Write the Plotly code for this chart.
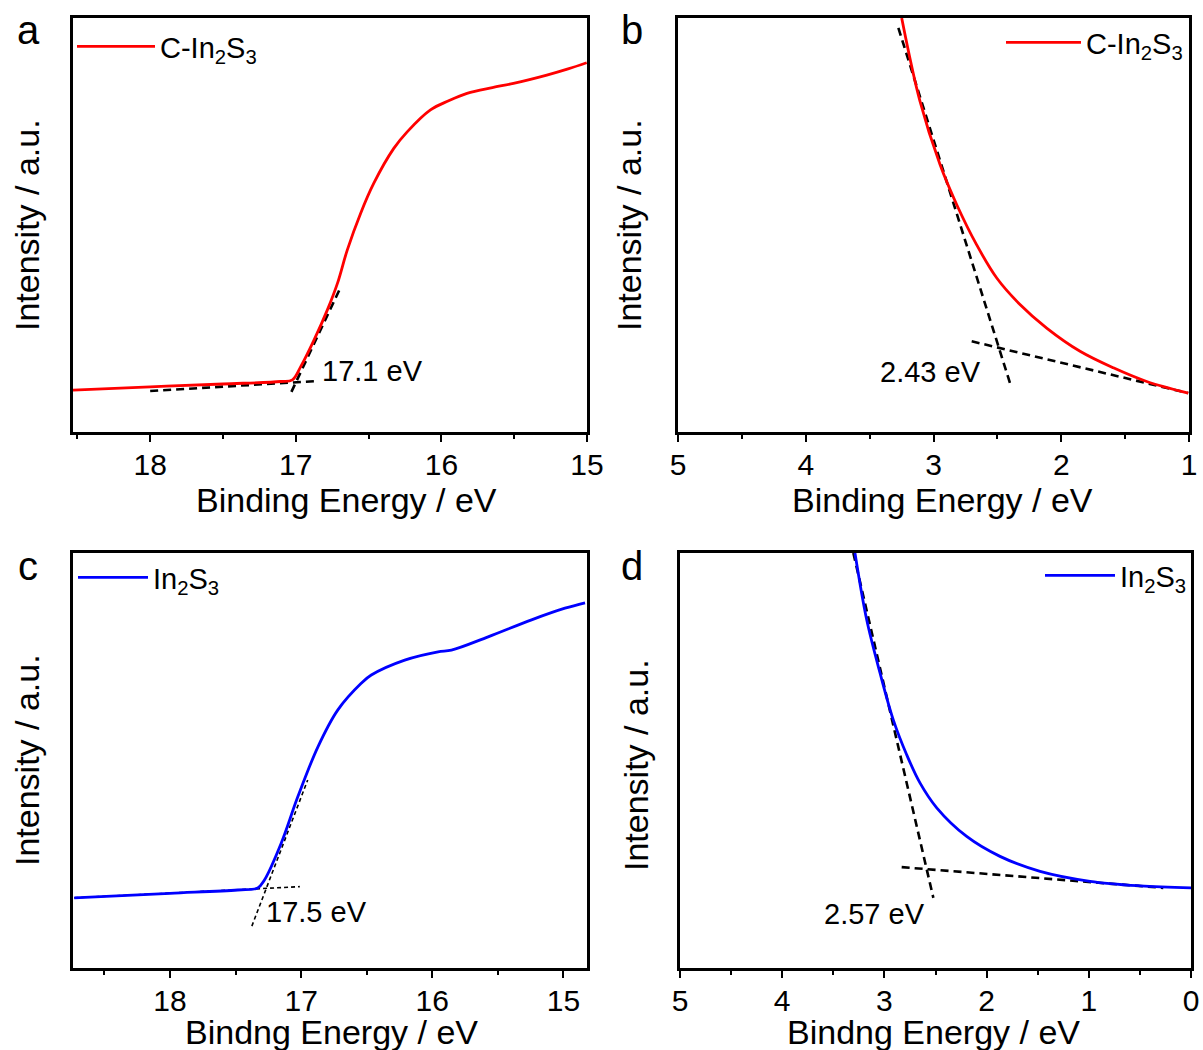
import plotly.graph_objects as go

W, H = 1203, 1050
FONT = "Liberation Sans, Arial, sans-serif"

# ---------------- data (binding energy in eV, normalised intensity) ----------------
a_energy = [18.53, 18.0, 17.5, 17.103, 17.023, 16.966, 16.875, 16.783, 16.714, 16.646, 16.555,
            16.464, 16.327, 16.235, 16.075, 15.95, 15.824, 15.65, 15.505, 15.276, 15.13, 15.002]
a_intensity = [0.101, 0.109, 0.116, 0.122, 0.126, 0.158, 0.222, 0.295, 0.359, 0.440, 0.528,
               0.601, 0.685, 0.725, 0.778, 0.800, 0.818, 0.832, 0.842, 0.862, 0.877, 0.892]
a_base_x, a_base_y = [18.0, 16.86], [0.099, 0.123]
a_edge_x, a_edge_y = [17.03, 16.69], [0.097, 0.351]

b_energy = [3.249, 3.106, 2.949, 2.818, 2.662, 2.505, 2.323, 2.114, 1.853, 1.592, 1.331, 1.006]
b_intensity = [1.0, 0.799, 0.646, 0.549, 0.452, 0.372, 0.308, 0.251, 0.195, 0.155, 0.122, 0.094]
b_edge_x, b_edge_y = [3.275, 2.401], [0.976, 0.118]
b_base_x, b_base_y = [2.701, 1.006], [0.219, 0.094]

c_energy = [18.73, 18.0, 17.484, 17.331, 17.28, 17.153, 17.025, 16.872, 16.72, 16.542, 16.465,
            16.21, 15.956, 15.854, 15.574, 15.243, 14.988, 14.835]
c_intensity = [0.169, 0.180, 0.188, 0.193, 0.212, 0.300, 0.413, 0.533, 0.622, 0.686, 0.706,
               0.742, 0.762, 0.766, 0.798, 0.839, 0.867, 0.880]
c_base_x, c_base_y = [18.73, 17.01], [0.169, 0.196]
c_edge_x, c_edge_y = [17.376, 16.95], [0.101, 0.453]

d_energy = [3.288, 3.173, 3.043, 2.913, 2.782, 2.652, 2.488, 2.195, 1.869, 1.477, 0.988, 0.499, 0.0]
d_intensity = [1.0, 0.839, 0.711, 0.598, 0.514, 0.446, 0.386, 0.317, 0.269, 0.233, 0.209, 0.198, 0.193]
d_edge_x, d_edge_y = [3.304, 2.521], [1.0, 0.169]
d_base_x, d_base_y = [2.831, 0.271], [0.243, 0.193]

labels = ["C-In<sub>2</sub>S<sub>3</sub>", "C-In<sub>2</sub>S<sub>3</sub>",
          "In<sub>2</sub>S<sub>3</sub>", "In<sub>2</sub>S<sub>3</sub>"]
onset_labels = ["17.1 eV", "2.43 eV", "17.5 eV", "2.57 eV"]
panel_letters = ["a", "b", "c", "d"]
xtitles = ["Binding Energy / eV", "Binding Energy / eV", "Bindng Energy / eV", "Bindng Energy / eV"]
ytitle = "Intensity / a.u."

RED, BLUE = "#ff0000", "#0000ff"

fig = go.Figure()

def px_x(p):
    return p / W

def px_y(p):
    return 1 - p / H

panels = [
    dict(ax="", e=a_energy, i=a_intensity, c=RED, t=[(a_base_x, a_base_y), (a_edge_x, a_edge_y)],
         dw=2.6, dash="8px,5px", lg="legend"),
    dict(ax="2", e=b_energy, i=b_intensity, c=RED, t=[(b_edge_x, b_edge_y), (b_base_x, b_base_y)],
         dw=2.6, dash="8px,5px", lg="legend2"),
    dict(ax="3", e=c_energy, i=c_intensity, c=BLUE, t=[(c_base_x, c_base_y), (c_edge_x, c_edge_y)],
         dw=1.6, dash="4px,3px", lg="legend3"),
    dict(ax="4", e=d_energy, i=d_intensity, c=BLUE, t=[(d_edge_x, d_edge_y), (d_base_x, d_base_y)],
         dw=2.6, dash="8px,5px", lg="legend4"),
]

for k, p in enumerate(panels):
    xa, ya = "x" + p["ax"], "y" + p["ax"]
    for tx, ty in p["t"]:
        fig.add_trace(go.Scatter(x=tx, y=ty, mode="lines", xaxis=xa, yaxis=ya, showlegend=False,
                                 line=dict(color="black", width=p["dw"], dash=p["dash"]),
                                 hoverinfo="skip"))
    fig.add_trace(go.Scatter(x=p["e"], y=p["i"], mode="lines", xaxis=xa, yaxis=ya,
                             name=labels[k], legend=p["lg"],
                             line=dict(color=p["c"], width=2.8, shape="spline", smoothing=1.0)))

# axis domains in pixels (left, right, top, bottom)
boxes = [(73, 587, 18, 432), (678, 1189, 18, 432), (73, 587, 553, 968), (680, 1191, 553, 968)]
xranges = [[18.53, 15.0], [5, 1], [18.74, 14.82], [5, 0]]
xticks = [[18, 17, 16, 15], [5, 4, 3, 2, 1], [18, 17, 16, 15], [5, 4, 3, 2, 1, 0]]

layout = dict(width=W, height=H, margin=dict(l=0, r=0, t=0, b=0, pad=0, autoexpand=False),
              paper_bgcolor="white", plot_bgcolor="white",
              font=dict(family=FONT, color="black", size=29))

for k, (l, r, t, b) in enumerate(boxes):
    sx = "" if k == 0 else str(k + 1)
    layout["xaxis" + sx] = dict(
        domain=[px_x(l), px_x(r)], range=xranges[k], anchor="y" + sx, automargin=False,
        tickvals=xticks[k], ticks="outside", ticklen=7, tickwidth=2, tickcolor="black",
        ticklabelstandoff=-3,
        minor=dict(dtick=0.5, ticks="outside", ticklen=4, tickwidth=1.5, tickcolor="black"),
        showline=True, linewidth=3, linecolor="black", mirror=True,
        showgrid=False, zeroline=False, tickfont=dict(size=30, family=FONT),
    )
    layout["yaxis" + sx] = dict(
        domain=[px_y(b), px_y(t)], range=[0, 1], anchor="x" + sx, automargin=False,
        showticklabels=False, ticks="", showline=True, linewidth=3, linecolor="black",
        mirror=True, showgrid=False, zeroline=False,
    )

legend_pos = [(72, 21, "left", 78), (1188, 17, "right", 75), (73, 552, "left", 70), (1192, 550, "right", 70)]
for k, (lx, ly, anc, iw) in enumerate(legend_pos):
    key = "legend" if k == 0 else "legend" + str(k + 1)
    layout[key] = dict(x=px_x(lx), y=px_y(ly), xanchor=anc, yanchor="top",
                       bgcolor="rgba(0,0,0,0)", borderwidth=0, itemwidth=iw,
                       font=dict(size=29, family=FONT), tracegroupgap=0)

fig.update_layout(**layout)

ann = []
letter_pos = [(28, 30), (632, 30), (28, 566), (632, 566)]
for k, (lx, ly) in enumerate(letter_pos):
    ann.append(dict(x=px_x(lx), y=px_y(ly), xref="paper", yref="paper", text=panel_letters[k],
                    showarrow=False, font=dict(size=40, family=FONT), xanchor="center", yanchor="middle"))
xt_pos = [(346, 500), (942, 500), (331, 1032), (933, 1032)]
for k, (tx, ty) in enumerate(xt_pos):
    ann.append(dict(x=px_x(tx), y=px_y(ty), xref="paper", yref="paper", text=xtitles[k],
                    showarrow=False, font=dict(size=34, family=FONT), xanchor="center", yanchor="middle"))
yt_pos = [(27, 225), (629, 225), (27, 760), (636, 765)]
for k, (tx, ty) in enumerate(yt_pos):
    ann.append(dict(x=px_x(tx), y=px_y(ty), xref="paper", yref="paper", text=ytitle, textangle=-90,
                    showarrow=False, font=dict(size=34, family=FONT), xanchor="center", yanchor="middle"))
onset_pos = [("x", "y", 16.476, 0.147), ("x2", "y2", 3.02, 0.145),
             ("x3", "y3", 16.88, 0.135), ("x4", "y4", 3.10, 0.130)]
for k, (xr, yr, ox, oy) in enumerate(onset_pos):
    ann.append(dict(x=ox, y=oy, xref=xr, yref=yr, text=onset_labels[k], showarrow=False,
                    font=dict(size=29, family=FONT), xanchor="center", yanchor="middle"))
fig.update_layout(annotations=ann)

fig.write_html("out.html")
